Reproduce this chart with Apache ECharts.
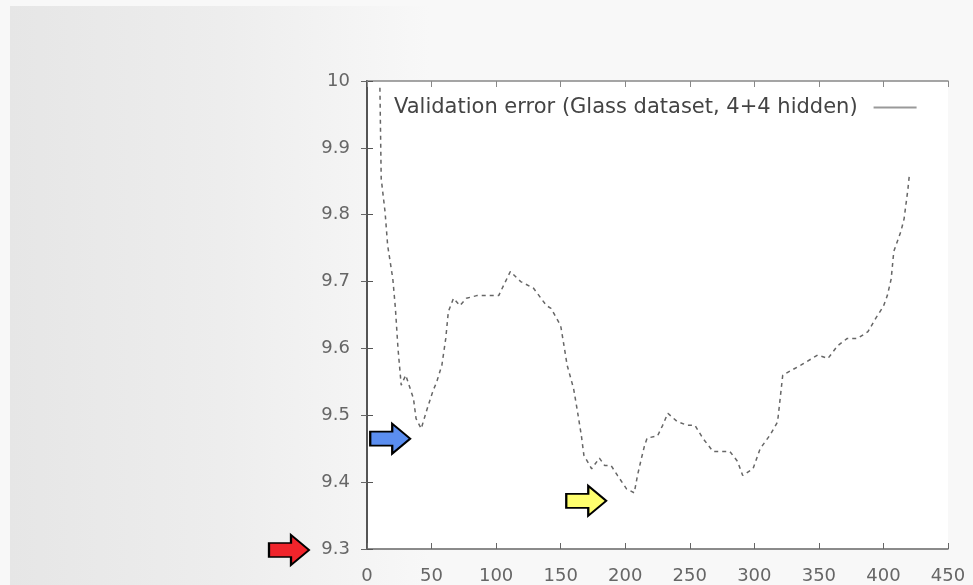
<!DOCTYPE html>
<html>
<head>
<meta charset="utf-8">
<title>Validation error</title>
<script src="https://cdn.jsdelivr.net/npm/echarts@6/dist/echarts.min.js"></script>
<style>
  html, body { margin: 0; padding: 0; background: #f8f8f8; }
  #chart1 { width: 973px; height: 585px; }
</style>
</head>
<body>
<div id="chart1"></div>
<script>
// data
var epochs = [10, 11, 14, 16, 20, 22, 24, 26.5, 30, 36, 38, 42, 46, 51, 54, 58, 61, 63, 67, 72, 77, 85,
  102, 111, 119, 129, 139, 142.5, 150, 152.6, 155, 160, 163, 166, 168, 174, 180, 184, 189, 194, 201, 207,
  209.5, 212.6, 215, 217, 225, 229, 233, 240, 248, 254, 260, 268, 281, 287, 291, 299, 304.5, 312, 318,
  322, 336, 349, 357, 364.5, 372, 380, 388, 394, 400, 403, 406, 408, 413.5, 416, 419, 420];
var errors = [9.99, 9.854, 9.804, 9.754, 9.704, 9.66, 9.6, 9.545, 9.56, 9.525, 9.495, 9.48, 9.506, 9.536,
  9.55, 9.575, 9.615, 9.655, 9.675, 9.664, 9.675, 9.679, 9.679, 9.715, 9.7, 9.69, 9.664, 9.66, 9.634,
  9.604, 9.575, 9.54, 9.506, 9.47, 9.44, 9.42, 9.436, 9.425, 9.425, 9.41, 9.39, 9.384, 9.41, 9.436,
  9.455, 9.466, 9.469, 9.485, 9.503, 9.491, 9.485, 9.485, 9.466, 9.446, 9.446, 9.431, 9.41, 9.42, 9.45,
  9.47, 9.49, 9.56, 9.575, 9.59, 9.585, 9.604, 9.615, 9.615, 9.625, 9.645, 9.663, 9.679, 9.704, 9.745,
  9.775, 9.794, 9.839, 9.858];
var xTicks = [0, 50, 100, 150, 200, 250, 300, 350, 400, 450];
var yTicks = [9.3, 9.4, 9.5, 9.6, 9.7, 9.8, 9.9, 10];
var seriesName = 'Validation error (Glass dataset, 4+4 hidden)';

// arrows pointing at: first dip, global minimum, 9.3 label
var arrowPoints = [
  { coord: [42, 9.48], color: '#5b8ef0', offset: [-31, 10] },
  { coord: [207, 9.384], color: '#ffff6e', offset: [-48, 8] },
  { coord: [0, 9.3], color: '#f0242b', offset: [-78, 1] }
];

var arrowPath = 'path://M0,8 L22,8 L22,0 L40,15 L22,30 L22,22 L0,22 Z';

var lineData = epochs.map(function (x, i) { return [x, errors[i]]; });

var myChart = echarts.init(document.getElementById('chart1'));

var labelFont = { fontFamily: 'DejaVu Sans', fontSize: 18, color: '#666' };

var option = {
  backgroundColor: '#f8f8f8',
  animation: false,
  graphic: [
    {
      // grey shade of the scanned page on the left
      type: 'rect',
      z: -10,
      shape: { x: 10, y: 6, width: 420, height: 579 },
      style: {
        fill: new echarts.graphic.LinearGradient(0, 0, 1, 0, [
          { offset: 0, color: '#e6e6e6' },
          { offset: 0.5, color: '#ededed' },
          { offset: 1, color: '#f8f8f8' }
        ])
      }
    }
  ],
  grid: {
    left: 367, right: 25, top: 81, bottom: 35,
    show: true, backgroundColor: '#ffffff', borderWidth: 0
  },
  legend: {
    data: [seriesName],
    left: 389,
    top: 92,
    align: 'right',
    icon: 'rect',
    itemWidth: 43,
    itemHeight: 2,
    itemGap: 0,
    itemStyle: { color: '#999' },
    textStyle: { fontFamily: 'DejaVu Sans', fontSize: 21, color: '#444', padding: [0, 11, 0, 0] }
  },
  xAxis: [
    {
      type: 'value',
      min: 0,
      max: 450,
      interval: 50,
      position: 'bottom',
      axisLine: { lineStyle: { color: '#666', width: 1.5 } },
      axisTick: { inside: true, length: 6, lineStyle: { color: '#666' } },
      axisLabel: Object.assign({ margin: 18 }, labelFont),
      splitLine: { show: false }
    },
    {
      type: 'value',
      min: 0,
      max: 450,
      interval: 50,
      position: 'top',
      axisLine: { show: true, lineStyle: { color: '#888', width: 1.5 } },
      axisTick: { show: true, inside: true, length: 6, lineStyle: { color: '#888' } },
      axisLabel: { show: false },
      splitLine: { show: false }
    }
  ],
  yAxis: [
    {
      type: 'value',
      min: yTicks[0],
      max: yTicks[yTicks.length - 1],
      interval: 0.1,
      position: 'left',
      axisLine: { show: true, lineStyle: { color: '#444', width: 2 } },
      axisTick: { show: true, inside: true, length: 6, lineStyle: { color: '#555' } },
      axisLabel: Object.assign({
        margin: 17,
        formatter: function (v) { return v >= 10 ? '10' : v.toFixed(1); }
      }, labelFont),
      splitLine: { show: false }
    },
    {
      type: 'value',
      min: yTicks[0],
      max: yTicks[yTicks.length - 1],
      interval: 0.1,
      position: 'right',
      axisLine: { show: true, lineStyle: { color: '#555', width: 2 } },
      axisTick: { show: true, inside: true, length: 6, lineStyle: { color: '#666' } },
      axisLabel: { show: false },
      splitLine: { show: false }
    }
  ],
  series: [
    {
      name: seriesName,
      type: 'line',
      data: lineData,
      showSymbol: false,
      clip: false,
      color: '#999',
      lineStyle: { color: '#666', width: 1.5, type: [4, 4] },
      markPoint: {
        silent: true,
        symbol: arrowPath,
        symbolSize: [40, 30],
        label: { show: false },
        data: arrowPoints.map(function (a) {
          return {
            coord: a.coord,
            symbolOffset: a.offset,
            itemStyle: { color: a.color, borderColor: '#000', borderWidth: 2 }
          };
        })
      }
    }
  ]
};

myChart.setOption(option);
</script>
</body>
</html>
